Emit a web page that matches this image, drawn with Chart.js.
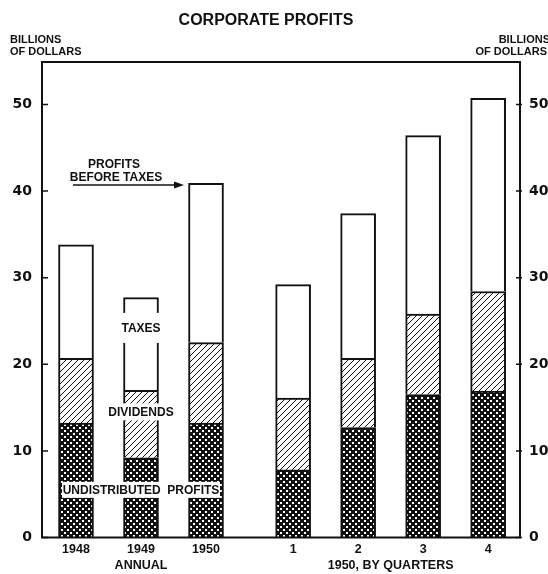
<!DOCTYPE html>
<html>
<head>
<meta charset="utf-8">
<script src="https://cdn.jsdelivr.net/npm/chart.js@4.4.1/dist/chart.umd.min.js"></script>
<style>
  html, body { margin: 0; padding: 0; background: #fff; }
  #wrap { width: 548px; height: 574px; }
</style>
</head>
<body>
<div id="wrap"><canvas id="profitsChart"></canvas></div>
<script>
// periods: three annual bars, then the four quarters of 1950
const periods = ["1948", "1949", "1950", "1", "2", "3", "4"];
const undistributed = [13.2, 9.2, 13.2, 7.8, 12.7, 16.5, 16.9];
const dividends = [7.5, 7.8, 9.3, 8.3, 8.0, 9.3, 11.5];
const taxes = [13.1, 10.7, 18.4, 13.1, 16.7, 20.6, 22.3];
const yTicks = [0, 10, 20, 30, 40, 50];

const GAP = 0.34; // extra space between the annual and quarterly groups
const xPos = periods.map((p, i) => i + (i >= 3 ? GAP : 0));
const groupPos = (xPos[4] + xPos[5]) / 2;

const LBL = "bold 12px 'Liberation Sans', Arial, sans-serif";

function hatchPattern() {
  const c = document.createElement("canvas");
  c.width = 6; c.height = 6;
  const g = c.getContext("2d");
  g.fillStyle = "#fff";
  g.fillRect(0, 0, 6, 6);
  g.strokeStyle = "#111";
  g.lineWidth = 1;
  g.beginPath();
  g.moveTo(-1, 7); g.lineTo(7, -1);
  g.moveTo(-1, 1); g.lineTo(1, -1);
  g.moveTo(5, 7); g.lineTo(7, 5);
  g.stroke();
  return g.createPattern(c, "repeat");
}

function crossPattern() {
  const c = document.createElement("canvas");
  c.width = 6; c.height = 6;
  const g = c.getContext("2d");
  g.fillStyle = "#111";
  g.fillRect(0, 0, 6, 6);
  g.fillStyle = "#fff";
  g.fillRect(1, 1, 2, 2);
  g.fillRect(4, 4, 2, 2);
  return g.createPattern(c, "repeat");
}

const pts = arr => arr.map((v, i) => ({ x: xPos[i], y: v }));
const barStyle = {
  borderColor: "#111",
  borderWidth: { left: 2, right: 2, top: 2, bottom: 0 },
  borderSkipped: false,
  barThickness: 35
};

const decorations = {
  id: "decorations",
  afterDraw(chart) {
    const { ctx, chartArea: a, scales } = chart;
    const x = scales.x, y = scales.y;
    ctx.save();

    // frame and inward tick marks
    ctx.strokeStyle = "#111";
    ctx.lineWidth = 2;
    ctx.strokeRect(a.left, a.top, a.right - a.left, a.bottom - a.top);
    ctx.lineWidth = 1.5;
    yTicks.forEach(t => {
      const py = y.getPixelForValue(t);
      ctx.beginPath();
      ctx.moveTo(a.left, py); ctx.lineTo(a.left + 6, py);
      ctx.moveTo(a.right - 4, py); ctx.lineTo(a.right + 2, py);
      ctx.stroke();
    });

    // titles
    ctx.fillStyle = "#111";
    ctx.textBaseline = "middle";
    ctx.textAlign = "center";
    ctx.font = "bold 16px 'Liberation Sans', Arial, sans-serif";
    ctx.fillText("CORPORATE PROFITS", 266, 21);
    ctx.font = "bold 11px 'Liberation Sans', Arial, sans-serif";
    ctx.textAlign = "left";
    ctx.fillText("BILLIONS", 10, 40);
    ctx.fillText("OF DOLLARS", 10, 52);
    ctx.textAlign = "right";
    ctx.fillText("BILLIONS", 550, 40);
    ctx.fillText("OF DOLLARS", 547, 52);

    // in-chart labels on white boxes
    ctx.font = LBL;
    ctx.textAlign = "center";
    function boxed(text, cx, cy, w, h) {
      ctx.fillStyle = "#fff";
      ctx.fillRect(cx - w / 2, cy - h / 2, w, h);
      ctx.fillStyle = "#111";
      ctx.fillText(text, cx, cy + 1);
    }
    const x49 = x.getPixelForValue(xPos[1]);
    boxed("TAXES", x49, y.getPixelForValue(24.2), 44, 30);
    boxed("DIVIDENDS", x49, y.getPixelForValue(14.5), 72, 17);
    const xMid = (x.getPixelForValue(xPos[0]) + x.getPixelForValue(xPos[2])) / 2;
    boxed("UNDISTRIBUTED  PROFITS", xMid, y.getPixelForValue(5.5), 158, 16);

    // profits before taxes note with arrow
    ctx.fillText("PROFITS", 114, y.getPixelForValue(43.1));
    ctx.fillText("BEFORE TAXES", 116, y.getPixelForValue(41.6));
    const ay = y.getPixelForValue(40.7);
    const ax = x.getPixelForValue(xPos[2]) - 22;
    ctx.lineWidth = 1.3;
    ctx.beginPath();
    ctx.moveTo(73, ay); ctx.lineTo(ax - 6, ay);
    ctx.stroke();
    ctx.beginPath();
    ctx.moveTo(ax, ay); ctx.lineTo(ax - 10, ay - 3.5); ctx.lineTo(ax - 10, ay + 3.5);
    ctx.closePath();
    ctx.fill();

    ctx.restore();
  }
};

new Chart(document.getElementById("profitsChart"), {
  type: "bar",
  data: {
    datasets: [
      { label: "Undistributed profits", data: pts(undistributed), backgroundColor: crossPattern(), ...barStyle },
      { label: "Dividends", data: pts(dividends), backgroundColor: hatchPattern(), ...barStyle },
      { label: "Taxes", data: pts(taxes), backgroundColor: "#fff", ...barStyle }
    ]
  },
  options: {
    responsive: true,
    maintainAspectRatio: false,
    animation: false,
    layout: { padding: { top: 62, left: 0, right: 0, bottom: 0 } },
    plugins: {
      legend: { display: false },
      tooltip: { enabled: false }
    },
    scales: {
      x: {
        type: "linear",
        stacked: true,
        offset: false,
        min: -0.523,
        max: 6.83,
        grid: { display: false, drawTicks: false, offset: false },
        border: { display: false },
        afterBuildTicks(scale) {
          scale.ticks = xPos.map(v => ({ value: v })).concat([{ value: groupPos }]);
        },
        afterFit(scale) { scale.height = 36.5; },
        ticks: {
          autoSkip: false,
          maxRotation: 0,
          padding: 3.5,
          color: "#111",
          font: { family: "'Liberation Sans', Arial, sans-serif", size: 12.5, weight: "bold", lineHeight: 1.3 },
          callback(value, index) {
            if (index === 1) return ["1949", "ANNUAL"];
            if (index < periods.length) return periods[index];
            return ["", "1950, BY QUARTERS"];
          }
        }
      },
      y: {
        stacked: true,
        min: 0,
        max: 54.9,
        position: "left",
        grid: { display: false, drawTicks: false },
        border: { display: false },
        afterBuildTicks(scale) { scale.ticks = yTicks.map(v => ({ value: v })); },
        afterFit(scale) { scale.width = 42; },
        ticks: {
          padding: 10,
          color: "#111",
          font: { family: "'DejaVu Sans', sans-serif", size: 14, weight: "bold" }
        }
      },
      y2: {
        min: 0,
        max: 54.9,
        position: "right",
        grid: { display: false, drawTicks: false },
        border: { display: false },
        afterBuildTicks(scale) { scale.ticks = yTicks.map(v => ({ value: v })); },
        afterFit(scale) { scale.width = 28; },
        ticks: {
          padding: 9,
          color: "#111",
          font: { family: "'DejaVu Sans', sans-serif", size: 14, weight: "bold" }
        }
      }
    }
  },
  plugins: [decorations]
});
</script>
</body>
</html>
